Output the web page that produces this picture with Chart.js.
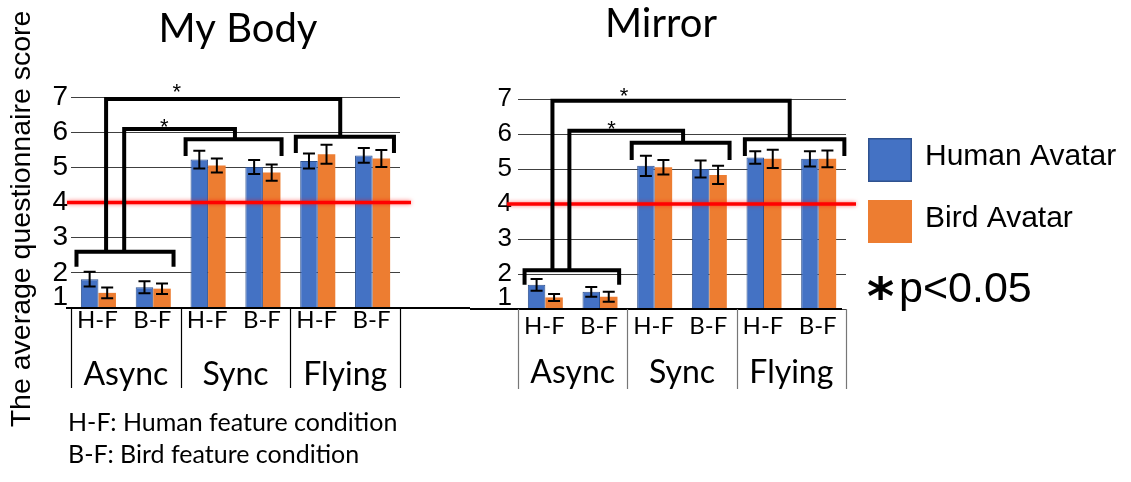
<!DOCTYPE html>
<html><head><meta charset="utf-8">
<script src="https://cdn.jsdelivr.net/npm/chart.js@4/dist/chart.umd.min.js"></script>
<style>
html,body{margin:0;padding:0;background:#fff;}
#wrap{position:relative;width:1131px;height:482px;overflow:hidden;background:#fff;}
#c1{position:absolute;left:0;top:0;}
#c2{position:absolute;left:470px;top:0;}
</style></head><body>
<div id="wrap"><canvas id="c1" width="470" height="482"></canvas><canvas id="c2" width="661" height="482"></canvas></div>
<script>
// ---- data ----
const conditions = ['H-F','B-F','H-F','B-F','H-F','B-F'];
const groups = ['Async','Sync','Flying'];
const seriesNames = ['Human Avatar','Bird Avatar'];
const yTicks = [1,2,3,4,5,6,7];
const neutralScore = 4;
const notes = ['H-F: Human feature condition','B-F: Bird feature condition'];
const yTitle = 'The average questionnaire score';
const sigNote = 'p<0.05';

const myBodyHuman    = [1.82,1.59,5.22,5.01,5.18,5.34];
const myBodyHumanErr = [0.21,0.17,0.25,0.20,0.21,0.21];
const myBodyBird     = [1.43,1.55,5.05,4.85,5.37,5.25];
const myBodyBirdErr  = [0.15,0.15,0.20,0.23,0.27,0.24];

const mirrorHuman    = [1.69,1.49,5.09,5.00,5.33,5.29];
const mirrorHumanErr = [0.17,0.14,0.29,0.24,0.18,0.22];
const mirrorBird     = [1.33,1.35,5.05,4.83,5.29,5.29];
const mirrorBirdErr  = [0.10,0.14,0.21,0.26,0.26,0.24];

// significance annotations (category index units / score units)
const myBodySig = {
  groups: [{from:-0.40,to:1.37,y:2.60,leg:2.17},{from:1.59,to:3.34,y:5.80,leg:5.32},{from:3.60,to:5.39,y:5.87,leg:5.41}],
  links: [{x1:0.47,x2:2.49,top:6.09,fromY:2.60,toY:5.80},{x1:0.14,x2:4.41,top:6.94,fromY:2.60,toY:5.87}],
  stars: [{x:1.43,y:7.26},{x:1.20,y:6.26}]
};
const mirrorSig = {
  groups: [{from:-0.38,to:1.35,y:2.11,leg:1.69},{from:1.58,to:3.37,y:5.75,leg:5.26},{from:3.65,to:5.47,y:5.85,leg:5.37}],
  links: [{x1:0.44,x2:2.52,top:6.09,fromY:2.11,toY:5.75},{x1:0.13,x2:4.47,top:6.95,fromY:2.11,toY:5.85}],
  stars: [{x:1.44,y:7.21},{x:1.21,y:6.26}]
};

const BLUE='#4472C4', BLUE_BORDER='#2F528F', ORANGE='#ED7D31';

function overlayPlugin(opt){
  return {
    id:'overlay',
    beforeDraw(chart){
      // lift the lowest tick label off the baseline, as in the original
      const y=chart.scales.y;
      const items=y.getLabelItems(chart.chartArea);
      if(items && items.length){
        const it=items.find(t=>t.label===String(yTicks[0]));
        if(it && !it._lifted){ it.options.translation[1]-=11; it._lifted=true; }
      }
    },
    afterDatasetsDraw(chart){
      const ctx=chart.ctx, x=chart.scales.x, y=chart.scales.y, ca=chart.chartArea;
      const xi = i => x.getPixelForValue(i);
      ctx.save();
      // error bars
      ctx.strokeStyle='#000'; ctx.lineWidth=2;
      chart.data.datasets.forEach((ds,di)=>{
        const meta=chart.getDatasetMeta(di);
        meta.data.forEach((bar,i)=>{
          const v=ds.data[i], e=ds.err[i];
          const yt=y.getPixelForValue(v+e), yb=y.getPixelForValue(v-e);
          ctx.beginPath();
          ctx.moveTo(bar.x,yt); ctx.lineTo(bar.x,yb);
          ctx.moveTo(bar.x-6,yt); ctx.lineTo(bar.x+6,yt);
          ctx.moveTo(bar.x-6,yb); ctx.lineTo(bar.x+6,yb);
          ctx.stroke();
        });
      });
      // neutral red line
      ctx.save();
      ctx.strokeStyle='#ff0000'; ctx.lineWidth=3.5;
      ctx.shadowColor='rgba(255,0,0,0.55)'; ctx.shadowBlur=4;
      const yr=y.getPixelForValue(neutralScore);
      ctx.beginPath(); ctx.moveTo(ca.left-opt.redL,yr); ctx.lineTo(ca.right+opt.redR,yr); ctx.stroke();
      ctx.restore();
      // brackets
      ctx.strokeStyle='#000'; ctx.lineWidth=4; ctx.lineJoin='miter'; ctx.lineCap='butt';
      opt.sig.groups.forEach(g=>{
        const yy=y.getPixelForValue(g.y), yl=y.getPixelForValue(g.leg);
        ctx.beginPath(); ctx.moveTo(xi(g.from),yl); ctx.lineTo(xi(g.from),yy); ctx.lineTo(xi(g.to),yy); ctx.lineTo(xi(g.to),yl); ctx.stroke();
      });
      opt.sig.links.forEach(l=>{
        ctx.beginPath();
        ctx.moveTo(xi(l.x1),y.getPixelForValue(l.fromY));
        ctx.lineTo(xi(l.x1),y.getPixelForValue(l.top));
        ctx.lineTo(xi(l.x2),y.getPixelForValue(l.top));
        ctx.lineTo(xi(l.x2),y.getPixelForValue(l.toY));
        ctx.stroke();
      });
      ctx.fillStyle='#000'; ctx.font='22px "Liberation Sans", Arial, sans-serif';
      ctx.textAlign='center'; ctx.textBaseline='middle';
      opt.sig.stars.forEach(s=>{ ctx.fillText('*', xi(s.x), y.getPixelForValue(s.y)+5); });
      // baseline
      ctx.lineWidth=2; ctx.strokeStyle='#000';
      ctx.beginPath(); ctx.moveTo(opt.baseFrom(ca),ca.bottom); ctx.lineTo(opt.baseTo(ca),ca.bottom); ctx.stroke();
      // group dividers
      ctx.lineWidth=1.2; ctx.strokeStyle=opt.divColor;
      [-0.5,1.5,3.5,5.5].forEach(p=>{
        const px=Math.round(xi(p))+0.5;
        ctx.beginPath(); ctx.moveTo(px,ca.bottom); ctx.lineTo(px,opt.divBottom); ctx.stroke();
      });
      // category labels
      ctx.fillStyle='#000'; ctx.textBaseline='alphabetic'; ctx.textAlign='center';
      ctx.font='24px Lato, "Open Sans", sans-serif';
      conditions.forEach((c,i)=>ctx.fillText(c, xi(i)-1, opt.condBase));
      ctx.font='32px Lato, "Open Sans", sans-serif';
      groups.forEach((g,i)=>ctx.fillText(g, xi(2*i+0.5), opt.groupBase));
      // title
      ctx.font=opt.titleFont;
      ctx.fillText(opt.title, opt.titleX, opt.titleBase);
      if(opt.extra) opt.extra(ctx,chart);
      ctx.restore();
    }
  };
}

function makeChart(id, human, humanErr, bird, birdErr, padding, tickFont, tickPad, opt){
  return new Chart(document.getElementById(id),{
    type:'bar',
    data:{labels:conditions,datasets:[
      {label:seriesNames[0],data:human,err:humanErr,backgroundColor:BLUE,borderColor:BLUE_BORDER,borderWidth:1,base:yTicks[0],categoryPercentage:0.64,barPercentage:1},
      {label:seriesNames[1],data:bird,err:birdErr,backgroundColor:ORANGE,borderColor:ORANGE,borderWidth:0,base:yTicks[0],categoryPercentage:0.64,barPercentage:1}
    ]},
    options:{
      responsive:false, animation:false, devicePixelRatio:1,
      layout:{padding:padding},
      plugins:{legend:{display:false},tooltip:{enabled:false},title:{display:false}},
      scales:{
        x:{display:false},
        y:{min:yTicks[0],max:yTicks[yTicks.length-1],
           afterFit(s){s.width=40;},
           afterBuildTicks(s){s.ticks=yTicks.map(v=>({value:v}));},
           ticks:{color:'#000',font:{family:'"Liberation Sans", Arial, sans-serif',size:tickFont},padding:tickPad,autoSkip:false},
           grid:{color:'#404040',lineWidth:1,drawTicks:false},
           border:{display:false}}
      }
    },
    plugins:[overlayPlugin(opt)]
  });
}

makeChart('c1', myBodyHuman, myBodyHumanErr, myBodyBird, myBodyBirdErr,
  {left:31,right:70,top:97,bottom:174}, 28, 3, {
    sig:myBodySig, redL:4, redR:11, divColor:'#000', divBottom:388,
    baseFrom:ca=>ca.left-5, baseTo:ca=>470,
    condBase:328, groupBase:385,
    title:'My Body', titleFont:'40px Lato, "Open Sans", sans-serif', titleX:238, titleBase:42,
    extra(ctx){
      ctx.save();
      ctx.font='28.5px "Liberation Sans", Arial, sans-serif';
      ctx.textAlign='center'; ctx.textBaseline='middle';
      ctx.translate(22,219); ctx.rotate(-Math.PI/2);
      ctx.fillText(yTitle,0,0);
      ctx.restore();
      ctx.font='25px Lato, "Open Sans", sans-serif'; ctx.textAlign='left'; ctx.textBaseline='alphabetic';
      ctx.fillText(notes[0],68,431);
      ctx.fillText(notes[1],68,463);
    }
  });

makeChart('c2', mirrorHuman, mirrorHumanErr, mirrorBird, mirrorBirdErr,
  {left:8,right:285,top:99,bottom:173}, 26, 6, {
    sig:mirrorSig, redL:11, redR:10, divColor:'#777', divBottom:389,
    baseFrom:ca=>0, baseTo:ca=>ca.right-4,
    condBase:334, groupBase:383,
    title:'Mirror', titleFont:'40px Lato, "Open Sans", sans-serif', titleX:191, titleBase:37,
    extra(ctx){
      // legend
      ctx.fillStyle=BLUE; ctx.fillRect(398,138,44,44);
      ctx.strokeStyle=BLUE_BORDER; ctx.lineWidth=1.5; ctx.strokeRect(398.75,138.75,42.5,42.5);
      ctx.fillStyle=ORANGE; ctx.fillRect(398,200,44,43);
      ctx.fillStyle='#000'; ctx.textAlign='left'; ctx.textBaseline='alphabetic';
      ctx.font='30px "Liberation Sans", Arial, sans-serif';
      ctx.fillText(seriesNames[0],455,165);
      ctx.fillText(seriesNames[1],455,227);
      ctx.font='bold 52px "DejaVu Sans", sans-serif';
      ctx.fillText('*',397,314);
      ctx.font='43px "Liberation Sans", Arial, sans-serif';
      ctx.fillText(sigNote,429,302);
    }
  });
</script>
</body></html>
